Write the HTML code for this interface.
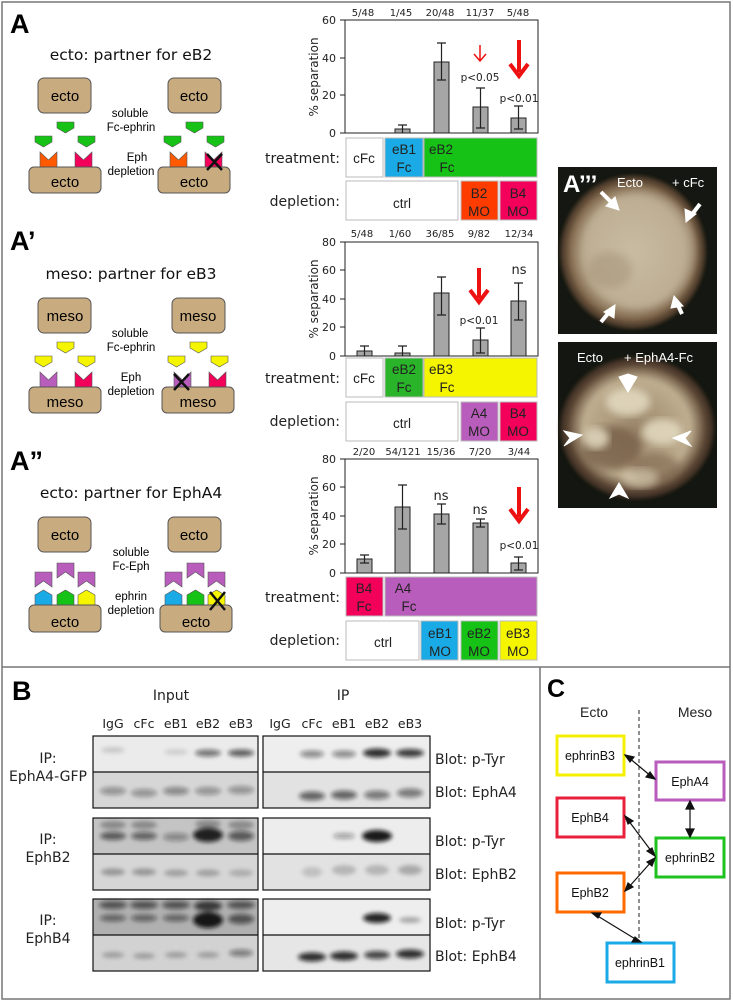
<!DOCTYPE html>
<html><head><meta charset="utf-8"><style>
html,body{margin:0;padding:0;background:#fff;}
svg{display:block;}
.v{font-family:"DejaVu Sans",Verdana,sans-serif;}
.a{font-family:"Liberation Sans",Arial,sans-serif;}
</style></head><body>
<svg width="733" height="1002" viewBox="0 0 733 1002" xmlns="http://www.w3.org/2000/svg">
<defs>
<filter id="bl" x="-50%" y="-100%" width="200%" height="300%"><feGaussianBlur stdDeviation="2.2"/></filter>
<filter id="bl2"><feGaussianBlur stdDeviation="4"/></filter>
<filter id="bl3"><feGaussianBlur stdDeviation="2"/></filter>
<radialGradient id="emb1" cx="50%" cy="50%" r="50%"><stop offset="0" stop-color="#c9bca2"/><stop offset="0.7" stop-color="#b5a487"/><stop offset="0.9" stop-color="#7a6248"/><stop offset="1" stop-color="#3a2c20"/></radialGradient>
<radialGradient id="emb2" cx="50%" cy="50%" r="50%"><stop offset="0" stop-color="#9a8569"/><stop offset="0.7" stop-color="#bfae90"/><stop offset="0.88" stop-color="#6a5440"/><stop offset="1" stop-color="#2a2018"/></radialGradient>
<polygon id="lig" points="0,0 17,0 17,6 8.5,11 0,6" stroke="#555" stroke-width="0.6"/>
<polygon id="rec" points="0,0 8.5,8 17,0 17,15 0,15" stroke="#555" stroke-width="0.6"/>
<polygon id="hous" points="0,5 8.5,0 17,5 17,15 0,15" stroke="#555" stroke-width="0.6"/>
<polygon id="flag" points="0,0 17,0 17,15 8.5,9 0,15" stroke="#555" stroke-width="0.6" fill="#b95dbd"/>
</defs>

<rect x="2" y="2" width="728" height="997" fill="none" stroke="#777" stroke-width="1.5"/>
<line x1="2" y1="667" x2="730" y2="667" stroke="#777" stroke-width="1.5"/>
<line x1="540" y1="667" x2="540" y2="999" stroke="#777" stroke-width="1.5"/>

<g class="a" font-weight="bold" font-size="27">
<text x="10" y="33">A</text><text x="10" y="250">A’</text><text x="10" y="470">A”</text>
</g>
<g class="v" font-size="15.5" text-anchor="middle" fill="#111">
<text x="131" y="60">ecto: partner for eB2</text>
<text x="131" y="279">meso: partner for eB3</text>
<text x="131" y="498">ecto: partner for EphA4</text>
</g>

<g>
<rect x="38" y="78" width="53" height="35" rx="6" fill="#c8ab7f" stroke="#555"/>
<rect x="168" y="78" width="53" height="35" rx="6" fill="#c8ab7f" stroke="#555"/>
<use href="#rec" x="40" y="152" fill="#ff5a00"/><use href="#rec" x="75" y="152" fill="#f2005a"/>
<use href="#rec" x="170" y="152" fill="#ff5a00"/><use href="#rec" x="205" y="152" fill="#f2005a"/>
<rect x="29" y="167" width="72" height="26" rx="5" fill="#c8ab7f" stroke="#555"/>
<rect x="158" y="167" width="72" height="26" rx="5" fill="#c8ab7f" stroke="#555"/>
<use href="#lig" x="35" y="136" fill="#16c216"/><use href="#lig" x="57" y="122" fill="#16c216"/><use href="#lig" x="78" y="136" fill="#16c216"/>
<use href="#lig" x="164" y="136" fill="#16c216"/><use href="#lig" x="186" y="122" fill="#16c216"/><use href="#lig" x="207" y="136" fill="#16c216"/>
<g class="a" font-size="15" text-anchor="middle"><text x="65" y="101">ecto</text><text x="194" y="101">ecto</text><text x="65" y="187">ecto</text><text x="194" y="187">ecto</text></g>
<g class="a" font-size="11.5" text-anchor="middle"><text x="130" y="117">soluble</text><text x="131" y="131">Fc-ephrin</text><text x="137" y="161">Eph</text><text x="131" y="175">depletion</text></g>
<path d="M207 154 L222 170 M222 154 L207 170" stroke="#111" stroke-width="2.5"/>
</g>
<g transform="translate(0,220)">
<rect x="38" y="78" width="53" height="35" rx="6" fill="#c8ab7f" stroke="#555"/>
<rect x="172" y="78" width="53" height="35" rx="6" fill="#c8ab7f" stroke="#555"/>
<use href="#rec" x="40" y="152" fill="#b95dbd"/><use href="#rec" x="75" y="152" fill="#f2005a"/>
<use href="#rec" x="174" y="152" fill="#b95dbd"/><use href="#rec" x="209" y="152" fill="#f2005a"/>
<rect x="29" y="167" width="72" height="26" rx="5" fill="#c8ab7f" stroke="#555"/>
<rect x="162" y="167" width="72" height="26" rx="5" fill="#c8ab7f" stroke="#555"/>
<use href="#lig" x="35" y="136" fill="#f5f500"/><use href="#lig" x="57" y="122" fill="#f5f500"/><use href="#lig" x="78" y="136" fill="#f5f500"/>
<use href="#lig" x="168" y="136" fill="#f5f500"/><use href="#lig" x="190" y="122" fill="#f5f500"/><use href="#lig" x="211" y="136" fill="#f5f500"/>
<g class="a" font-size="15" text-anchor="middle"><text x="65" y="101">meso</text><text x="198" y="101">meso</text><text x="65" y="187">meso</text><text x="198" y="187">meso</text></g>
<g class="a" font-size="11.5" text-anchor="middle"><text x="130" y="117">soluble</text><text x="131" y="131">Fc-ephrin</text><text x="131" y="161">Eph</text><text x="131" y="175">depletion</text></g>
<path d="M174 154 L189 170 M189 154 L174 170" stroke="#111" stroke-width="2.5"/>
</g>
<g transform="translate(0,439)">
<rect x="38" y="78" width="53" height="35" rx="6" fill="#c8ab7f" stroke="#555"/>
<rect x="168" y="78" width="53" height="35" rx="6" fill="#c8ab7f" stroke="#555"/>
<use href="#hous" x="35" y="151" fill="#1aaae6"/><use href="#hous" x="57" y="151" fill="#16c216"/><use href="#hous" x="78" y="151" fill="#f5f500"/>
<use href="#hous" x="165" y="151" fill="#1aaae6"/><use href="#hous" x="187" y="151" fill="#16c216"/><use href="#hous" x="208" y="151" fill="#f5f500"/>
<rect x="29" y="166" width="72" height="27" rx="5" fill="#c8ab7f" stroke="#555"/>
<rect x="160" y="166" width="72" height="27" rx="5" fill="#c8ab7f" stroke="#555"/>
<use href="#flag" x="35" y="133"/><use href="#flag" x="57" y="124"/><use href="#flag" x="78" y="133"/>
<use href="#flag" x="165" y="133"/><use href="#flag" x="187" y="124"/><use href="#flag" x="208" y="133"/>
<g class="a" font-size="15" text-anchor="middle"><text x="65" y="101">ecto</text><text x="194" y="101">ecto</text><text x="65" y="188">ecto</text><text x="196" y="188">ecto</text></g>
<g class="a" font-size="11.5" text-anchor="middle"><text x="131" y="117">soluble</text><text x="131" y="131">Fc-Eph</text><text x="131" y="161">ephrin</text><text x="131" y="175">depletion</text></g>
<path d="M210 153 L225 171 M225 153 L210 171" stroke="#111" stroke-width="2.5"/>
</g>

<g class="v" font-size="10" text-anchor="middle" fill="#222">
<text x="363" y="16">5/48</text><text x="401" y="16">1/45</text><text x="440" y="16">20/48</text><text x="480" y="16">11/37</text><text x="518" y="16">5/48</text>
<text x="362" y="237">5/48</text><text x="400" y="237">1/60</text><text x="440" y="237">36/85</text><text x="479" y="237">9/82</text><text x="519" y="237">12/34</text>
<text x="364" y="455">2/20</text><text x="403" y="455">54/121</text><text x="441" y="455">15/36</text><text x="480" y="455">7/20</text><text x="519" y="455">3/44</text>
</g>
<g stroke="#222" fill="none" stroke-width="1">
<rect x="345" y="20" width="193" height="113"/>
<rect x="345" y="242" width="193" height="114"/>
<rect x="345" y="459" width="193" height="114"/>
<path d="M340 20h5M340 58h5M340 95h5M340 133h5"/>
<path d="M340 242h5M340 270h5M340 299h5M340 327h5M340 356h5"/>
<path d="M340 459h5M340 487h5M340 516h5M340 544h5M340 573h5"/>
</g>
<g class="v" font-size="11" text-anchor="end" fill="#222">
<text x="336" y="24">60</text><text x="336" y="62">40</text><text x="336" y="99">20</text><text x="336" y="137">0</text>
<text x="336" y="246">80</text><text x="336" y="274">60</text><text x="336" y="303">40</text><text x="336" y="331">20</text><text x="336" y="360">0</text>
<text x="336" y="463">80</text><text x="336" y="491">60</text><text x="336" y="520">40</text><text x="336" y="548">20</text><text x="336" y="577">0</text>
</g>
<g class="v" font-size="12" text-anchor="middle" fill="#222">
<text transform="translate(318,77) rotate(-90)">% separation</text>
<text transform="translate(318,299) rotate(-90)">% separation</text>
<text transform="translate(318,516) rotate(-90)">% separation</text>
</g>
<g fill="#a6a6a6" stroke="#222" stroke-width="1">
<rect x="395" y="129" width="15" height="4"/><rect x="434" y="62" width="15" height="71"/><rect x="473" y="107" width="15" height="26"/><rect x="511" y="118" width="15" height="15"/>
<rect x="357" y="351" width="15" height="5"/><rect x="395" y="353" width="15" height="3"/><rect x="434" y="293" width="15" height="63"/><rect x="473" y="340" width="15" height="16"/><rect x="511" y="301" width="15" height="55"/>
<rect x="357" y="559" width="15" height="14"/><rect x="395" y="507" width="15" height="66"/><rect x="434" y="514" width="15" height="59"/><rect x="473" y="523" width="15" height="50"/><rect x="511" y="563" width="15" height="10"/>
</g>
<g stroke="#222" stroke-width="1.2" fill="none">
<path d="M402.5 125v8M398 125h9"/><path d="M441.5 43v37M437 43h9M437 80h9"/><path d="M480.5 88v40M476 88h9M476 128h9"/><path d="M518.5 106v23M514 106h9M514 129h9"/>
<path d="M364.5 346v10M360 346h9"/><path d="M402.5 346v10M398 346h9"/><path d="M441.5 277v38M437 277h9M437 315h9"/><path d="M480.5 328v25M476 328h9M476 353h9"/><path d="M518.5 283v37M514 283h9M514 320h9"/>
<path d="M364.5 555v8M360 555h9M360 563h9"/><path d="M402.5 485v44M398 485h9M398 529h9"/><path d="M441.5 504v20M437 504h9M437 524h9"/><path d="M480.5 519v8M476 519h9M476 527h9"/><path d="M518.5 557v13M514 557h9M514 570h9"/>
</g>
<g stroke="#ee1111" fill="none">
<path d="M480 45v16M474 54l6 7 6-7" stroke-width="1.5"/>
<path d="M519 40v32" stroke-width="4"/><path d="M510 64l9 12 9-12" stroke-width="4"/>
<path d="M479 268v30" stroke-width="4"/><path d="M470 290l9 12 9-12" stroke-width="4"/>
<path d="M519 487v30" stroke-width="4"/><path d="M510 509l9 12 9-12" stroke-width="4"/>
</g>
<g class="v" font-size="10.5" text-anchor="middle" fill="#222">
<text x="480" y="81">p&lt;0.05</text><text x="519" y="102">p&lt;0.01</text>
<text x="479" y="324">p&lt;0.01</text><text x="519" y="549">p&lt;0.01</text>
</g>
<g class="v" font-size="13" text-anchor="middle" fill="#222">
<text x="519" y="274">ns</text><text x="441" y="500">ns</text><text x="480" y="514">ns</text>
</g>
<g class="v" font-size="14" text-anchor="end" fill="#222">
<text x="340" y="163">treatment:</text><text x="340" y="206">depletion:</text>
<text x="340" y="383">treatment:</text><text x="340" y="426">depletion:</text>
<text x="340" y="602">treatment:</text><text x="340" y="645">depletion:</text>
</g>
<g stroke="#bbb" stroke-width="1">
<rect x="346" y="138" width="37" height="39" fill="#fff"/><rect x="385" y="138" width="38" height="39" fill="#1aaae6"/><rect x="424" y="138" width="113" height="39" fill="#16c216"/>
<rect x="346" y="181" width="112" height="39" fill="#fff"/><rect x="461" y="181" width="37" height="39" fill="#ff3c00"/><rect x="500" y="181" width="37" height="39" fill="#f2005a"/>
<rect x="346" y="358" width="37" height="39" fill="#fff"/><rect x="385" y="358" width="38" height="39" fill="#2ab42a"/><rect x="424" y="358" width="113" height="39" fill="#f5f500"/>
<rect x="346" y="402" width="112" height="39" fill="#fff"/><rect x="461" y="402" width="37" height="39" fill="#b95dbd"/><rect x="500" y="402" width="37" height="39" fill="#f2005a"/>
<rect x="346" y="577" width="37" height="39" fill="#f2005a"/><rect x="385" y="577" width="152" height="39" fill="#b95dbd"/>
<rect x="346" y="621" width="73" height="39" fill="#fff"/><rect x="421" y="621" width="37" height="39" fill="#1aaae6"/><rect x="461" y="621" width="37" height="39" fill="#16c216"/><rect x="500" y="621" width="37" height="39" fill="#f5f500"/>
</g>
<g class="a" font-size="13.5" text-anchor="middle" fill="#222">
<text x="364" y="163">cFc</text><text x="404" y="154">eB1</text><text x="404" y="172">Fc</text><text x="441" y="154">eB2</text><text x="447" y="172">Fc</text>
<text x="402" y="208">ctrl</text><text x="479" y="198">B2</text><text x="479" y="216">MO</text><text x="518" y="198">B4</text><text x="518" y="216">MO</text>
<text x="364" y="383">cFc</text><text x="404" y="374">eB2</text><text x="404" y="392">Fc</text><text x="441" y="374">eB3</text><text x="447" y="392">Fc</text>
<text x="402" y="428">ctrl</text><text x="479" y="418">A4</text><text x="479" y="436">MO</text><text x="518" y="418">B4</text><text x="518" y="436">MO</text>
<text x="364" y="593">B4</text><text x="364" y="611">Fc</text><text x="403" y="593">A4</text><text x="409" y="611">Fc</text>
<text x="383" y="647">ctrl</text><text x="440" y="638">eB1</text><text x="440" y="656">MO</text><text x="479" y="638">eB2</text><text x="479" y="656">MO</text><text x="518" y="638">eB3</text><text x="518" y="656">MO</text>
</g>

<!-- Photos -->
<rect x="558" y="167" width="159" height="167" fill="#151812"/>
<ellipse cx="633" cy="252" rx="72" ry="76" fill="url(#emb1)" filter="url(#bl3)"/>
<ellipse cx="633" cy="252" rx="69" ry="73" fill="none" stroke="#5e4632" stroke-width="6" opacity="0.7" filter="url(#bl3)" stroke-dasharray="3,2"/>
<ellipse cx="640" cy="250" rx="55" ry="58" fill="#c9bca4" opacity="0.45" filter="url(#bl2)"/>
<ellipse cx="610" cy="270" rx="22" ry="18" fill="#9c8a70" opacity="0.4" filter="url(#bl2)"/>
<rect x="558" y="342" width="159" height="166" fill="#141711"/>
<ellipse cx="637" cy="428" rx="76" ry="70" fill="url(#emb2)" filter="url(#bl3)"/>
<ellipse cx="637" cy="428" rx="73" ry="67" fill="none" stroke="#5a4230" stroke-width="7" opacity="0.7" filter="url(#bl3)" stroke-dasharray="3,2"/>
<ellipse cx="612" cy="448" rx="30" ry="22" fill="#6e5640" opacity="0.7" filter="url(#bl2)"/>
<ellipse cx="655" cy="468" rx="25" ry="15" fill="#7a6248" opacity="0.6" filter="url(#bl2)"/>
<ellipse cx="628" cy="402" rx="22" ry="14" fill="#e4dcc2" opacity="0.85" filter="url(#bl2)"/>
<ellipse cx="662" cy="432" rx="20" ry="13" fill="#e4dcc2" opacity="0.85" filter="url(#bl2)"/>
<ellipse cx="596" cy="438" rx="13" ry="11" fill="#e4dcc2" opacity="0.85" filter="url(#bl2)"/>
<ellipse cx="640" cy="478" rx="18" ry="10" fill="#d8ceb2" opacity="0.6" filter="url(#bl2)"/>
<g class="a" fill="#fff">
<text x="563" y="192" font-size="24" font-weight="bold">A’’’</text>
<text x="617" y="187" font-size="13">Ecto</text><text x="672" y="187" font-size="13">+ cFc</text>
<text x="577" y="362" font-size="13">Ecto</text><text x="624" y="362" font-size="13">+ EphA4-Fc</text>
</g>
<g stroke="#fff" stroke-width="4" fill="#fff">
<path d="M601 192 L614 205"/><polygon points="619,210 606,206 615,197" stroke-width="1"/>
<path d="M700 204 L690 217"/><polygon points="686,222 685,209 696,214" stroke-width="1"/>
<path d="M601 322 L611 310"/><polygon points="615,305 614,318 604,312" stroke-width="1"/>
<path d="M682 314 L676 301"/><polygon points="674,296 683,306 671,308" stroke-width="1"/>
<polygon points="619,377 628,374 637,377 628,392" stroke-width="1"/>
<polygon points="564,431 582,435 564,446 570,438" stroke-width="1"/>
<polygon points="691,431 673,438 691,446 685,438" stroke-width="1"/>
<polygon points="610,498 619,483 628,498 619,494" stroke-width="1"/>
</g>

<!-- Panel B -->
<text x="12" y="700" class="a" font-size="27" font-weight="bold">B</text>
<g class="v" font-size="14" text-anchor="middle" fill="#222">
<text x="171" y="700">Input</text><text x="343" y="700">IP</text>
</g>
<g class="v" font-size="12.5" text-anchor="middle" fill="#222">
<text x="113" y="728">IgG</text><text x="144" y="728">cFc</text><text x="176" y="728">eB1</text><text x="208" y="728">eB2</text><text x="241" y="728">eB3</text>
<text x="280" y="728">IgG</text><text x="312" y="728">cFc</text><text x="344" y="728">eB1</text><text x="377" y="728">eB2</text><text x="410" y="728">eB3</text>
</g>
<g>
<rect x="93" y="736" width="165" height="36" fill="#ebebeb"/><rect x="93" y="772" width="165" height="36" fill="#d6d6d6"/>
<rect x="263" y="736" width="167" height="36" fill="#eeeeee"/><rect x="263" y="772" width="167" height="36" fill="#e2e2e2"/>
<rect x="93" y="818" width="165" height="36" fill="#c4c4c4"/><rect x="93" y="854" width="165" height="36" fill="#d6d6d6"/>
<rect x="263" y="818" width="167" height="36" fill="#ededed"/><rect x="263" y="854" width="167" height="36" fill="#e2e2e2"/>
<rect x="93" y="899" width="165" height="36" fill="#b0b0b0"/><rect x="93" y="935" width="165" height="36" fill="#d2d2d2"/>
<rect x="263" y="899" width="167" height="36" fill="#eeeeee"/><rect x="263" y="935" width="167" height="36" fill="#e6e6e6"/>
</g>
<g fill="#111" filter="url(#bl)">
<ellipse cx="113" cy="750" rx="12" ry="3" opacity="0.15"/><ellipse cx="176" cy="752" rx="12" ry="3" opacity="0.12"/><ellipse cx="208" cy="753" rx="13" ry="3.5" opacity="0.55"/><ellipse cx="241" cy="753" rx="13" ry="3.5" opacity="0.65"/>
<ellipse cx="312" cy="754" rx="12" ry="3.5" opacity="0.45"/><ellipse cx="344" cy="754" rx="12" ry="3.5" opacity="0.45"/><ellipse cx="377" cy="753" rx="14" ry="4.5" opacity="0.85"/><ellipse cx="410" cy="753" rx="14" ry="4" opacity="0.8"/>
<ellipse cx="113" cy="791" rx="13" ry="4" opacity="0.35"/><ellipse cx="144" cy="793" rx="13" ry="4" opacity="0.35"/><ellipse cx="176" cy="791" rx="13" ry="4" opacity="0.4"/><ellipse cx="208" cy="791" rx="13" ry="4" opacity="0.35"/><ellipse cx="241" cy="790" rx="13" ry="4" opacity="0.35"/>
<ellipse cx="312" cy="796" rx="13" ry="4.5" opacity="0.6"/><ellipse cx="344" cy="795" rx="13" ry="4.5" opacity="0.6"/><ellipse cx="377" cy="795" rx="13" ry="4.5" opacity="0.5"/><ellipse cx="410" cy="793" rx="13" ry="4.5" opacity="0.5"/>
<ellipse cx="113" cy="825" rx="13" ry="4" opacity="0.3"/><ellipse cx="144" cy="825" rx="13" ry="4" opacity="0.3"/><ellipse cx="208" cy="824" rx="13" ry="4" opacity="0.3"/><ellipse cx="241" cy="825" rx="13" ry="4" opacity="0.3"/>
<ellipse cx="113" cy="836" rx="13" ry="4" opacity="0.6"/><ellipse cx="144" cy="836" rx="13" ry="4" opacity="0.55"/><ellipse cx="176" cy="837" rx="13" ry="4" opacity="0.35"/><ellipse cx="208" cy="835" rx="15" ry="7" opacity="0.9"/><ellipse cx="241" cy="836" rx="13" ry="5" opacity="0.6"/>
<ellipse cx="344" cy="836" rx="11" ry="3" opacity="0.35"/><ellipse cx="377" cy="836" rx="15" ry="6" opacity="0.95"/>
<ellipse cx="113" cy="872" rx="12" ry="3.5" opacity="0.3"/><ellipse cx="144" cy="872" rx="12" ry="3.5" opacity="0.3"/><ellipse cx="176" cy="873" rx="12" ry="3.5" opacity="0.25"/><ellipse cx="208" cy="873" rx="12" ry="3.5" opacity="0.25"/><ellipse cx="241" cy="873" rx="12" ry="3.5" opacity="0.2"/>
<ellipse cx="312" cy="872" rx="10" ry="5" opacity="0.15"/><ellipse cx="344" cy="870" rx="12" ry="5" opacity="0.2"/><ellipse cx="377" cy="870" rx="12" ry="5" opacity="0.2"/><ellipse cx="410" cy="870" rx="12" ry="5" opacity="0.25"/>
<ellipse cx="113" cy="905" rx="14" ry="4" opacity="0.6"/><ellipse cx="144" cy="905" rx="14" ry="4" opacity="0.6"/><ellipse cx="176" cy="905" rx="14" ry="4" opacity="0.6"/><ellipse cx="208" cy="906" rx="14" ry="5" opacity="0.75"/><ellipse cx="241" cy="905" rx="14" ry="4" opacity="0.6"/>
<ellipse cx="113" cy="918" rx="13" ry="3.5" opacity="0.5"/><ellipse cx="144" cy="918" rx="13" ry="3.5" opacity="0.5"/><ellipse cx="176" cy="918" rx="13" ry="3.5" opacity="0.5"/><ellipse cx="208" cy="920" rx="15" ry="8" opacity="0.95"/><ellipse cx="241" cy="919" rx="13" ry="5" opacity="0.6"/>
<ellipse cx="377" cy="918" rx="14" ry="5" opacity="0.9"/><ellipse cx="410" cy="920" rx="11" ry="3" opacity="0.3"/>
<ellipse cx="113" cy="955" rx="11" ry="3" opacity="0.25"/><ellipse cx="144" cy="956" rx="11" ry="3" opacity="0.25"/><ellipse cx="176" cy="955" rx="11" ry="3" opacity="0.25"/><ellipse cx="208" cy="955" rx="11" ry="3" opacity="0.25"/><ellipse cx="241" cy="953" rx="12" ry="3.5" opacity="0.45"/>
<ellipse cx="312" cy="957" rx="14" ry="4.5" opacity="0.85"/><ellipse cx="344" cy="956" rx="14" ry="4.5" opacity="0.85"/><ellipse cx="377" cy="955" rx="13" ry="4" opacity="0.75"/><ellipse cx="410" cy="954" rx="14" ry="4.5" opacity="0.85"/>
</g>
<g fill="none" stroke="#111" stroke-width="1.2">
<rect x="93" y="736" width="165" height="72"/><line x1="93" y1="772" x2="258" y2="772"/>
<rect x="263" y="736" width="167" height="72"/><line x1="263" y1="772" x2="430" y2="772"/>
<rect x="93" y="818" width="165" height="72"/><line x1="93" y1="854" x2="258" y2="854"/>
<rect x="263" y="818" width="167" height="72"/><line x1="263" y1="854" x2="430" y2="854"/>
<rect x="93" y="899" width="165" height="72"/><line x1="93" y1="935" x2="258" y2="935"/>
<rect x="263" y="899" width="167" height="72"/><line x1="263" y1="935" x2="430" y2="935"/>
</g>
<g class="v" font-size="14" text-anchor="middle" fill="#222">
<text x="48" y="763">IP:</text><text x="48" y="781">EphA4-GFP</text>
<text x="48" y="844">IP:</text><text x="48" y="862">EphB2</text>
<text x="48" y="925">IP:</text><text x="48" y="943">EphB4</text>
</g>
<g class="v" font-size="14" fill="#222">
<text x="435" y="764">Blot: p-Tyr</text><text x="435" y="797">Blot: EphA4</text>
<text x="435" y="846">Blot: p-Tyr</text><text x="435" y="879">Blot: EphB2</text>
<text x="435" y="928">Blot: p-Tyr</text><text x="435" y="961">Blot: EphB4</text>
</g>

<!-- Panel C -->
<text x="547" y="697" class="a" font-size="25" font-weight="bold">C</text>
<g class="a" font-size="14" text-anchor="middle" fill="#222"><text x="594" y="717">Ecto</text><text x="695" y="717">Meso</text></g>
<line x1="639" y1="710" x2="639" y2="943" stroke="#222" stroke-dasharray="4,3"/>
<g fill="#fff" stroke-width="3">
<rect x="557" y="736" width="67" height="39" stroke="#f5f000"/>
<rect x="656" y="762" width="68" height="38" stroke="#b95dbd"/>
<rect x="557" y="798" width="67" height="39" stroke="#e8203c"/>
<rect x="656" y="838" width="68" height="39" stroke="#1ec21e"/>
<rect x="557" y="873" width="67" height="39" stroke="#ff6a00"/>
<rect x="607" y="943" width="67" height="39" stroke="#1aaae6"/>
</g>
<g class="a" font-size="12.5" text-anchor="middle" fill="#111">
<text x="590" y="760">ephrinB3</text><text x="690" y="786">EphA4</text><text x="590" y="822">EphB4</text>
<text x="690" y="862">ephrinB2</text><text x="590" y="897">EphB2</text><text x="640" y="967">ephrinB1</text>
</g>
<g stroke="#111" stroke-width="1.2" fill="#111">
<line x1="628" y1="757" x2="652" y2="777"/><polygon points="625,755 634,757 630,762"/><polygon points="655,779 646,777 650,772"/>
<line x1="690" y1="805" x2="690" y2="833"/><polygon points="690,801 686,809 694,809"/><polygon points="690,837 686,829 694,829"/>
<line x1="628" y1="820" x2="652" y2="852"/><polygon points="625,816 633,821 628,824"/><polygon points="655,856 647,851 652,848"/>
<line x1="628" y1="888" x2="652" y2="861"/><polygon points="625,891 628,883 633,887"/><polygon points="655,858 652,866 647,862"/>
<line x1="596" y1="915" x2="637" y2="940"/><polygon points="592,913 601,913 598,918"/><polygon points="641,942 632,942 635,937"/>
</g>
</svg>
</body></html>
